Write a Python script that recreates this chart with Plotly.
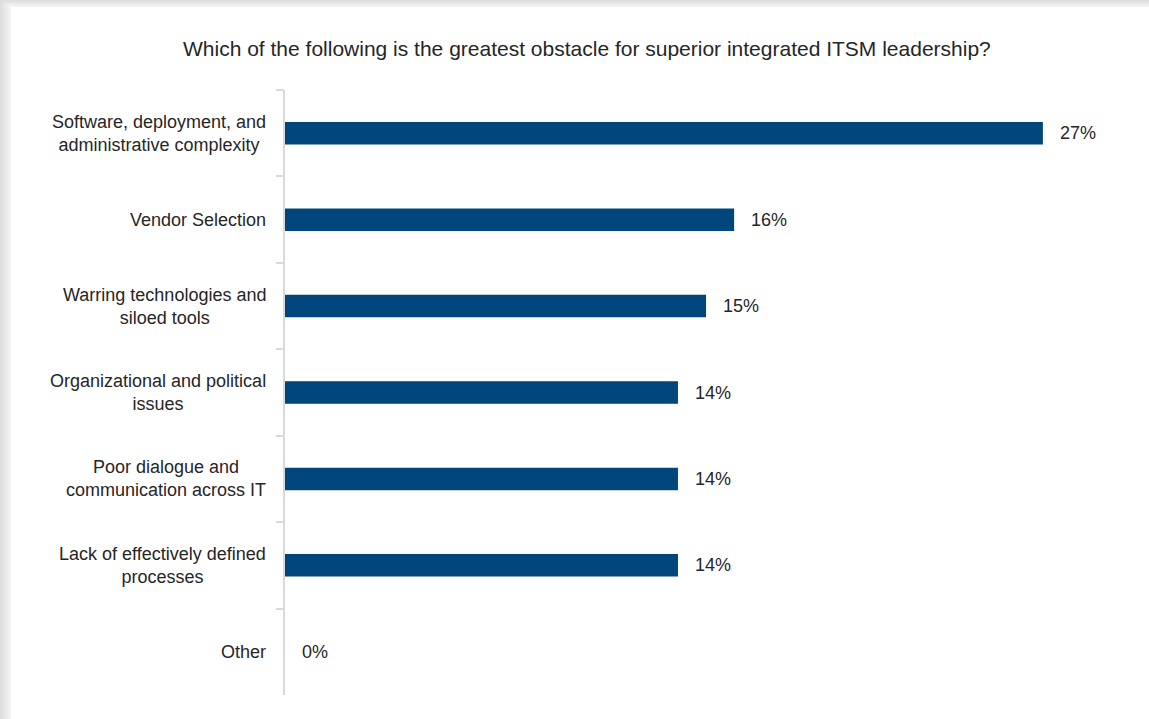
import plotly.graph_objects as go

categories = [
    "Software, deployment, and<br>administrative complexity",
    "Vendor Selection",
    "Warring technologies and<br>siloed tools",
    "Organizational and political<br>issues",
    "Poor dialogue and<br>communication across IT",
    "Lack of effectively defined<br>processes",
    "Other",
]
values = [27, 16, 15, 14, 14, 14, 0]
value_labels = ["27%", "16%", "15%", "14%", "14%", "14%", "0%"]

title_text = "Which of the following is the greatest obstacle for superior integrated ITSM leadership?"

W, H = 1149, 719
ML, MR, MT, MB = 285, 50, 90, 24
PW, PH = W - ML - MR, H - MT - MB

FONT = "Liberation Sans Narrow, Arial Narrow, Liberation Sans, Arial, sans-serif"
TXT = "#262626"
BAR = "#00467c"

fig = go.Figure()
fig.add_trace(go.Bar(
    x=values, y=categories, orientation="h",
    marker=dict(color=BAR, line=dict(width=0)),
    width=0.26, hoverinfo="skip",
))

def px_to_paper_x(px):
    return (px - ML) / PW

def px_to_paper_y(py):
    return (H - MB - py) / PH

shapes = []
# background frame with soft gray shadow on top/left
grays = ["#dedede", "#e3e3e3", "#e8e8e8", "#ececec", "#f0f0f0", "#f4f4f4"]
for i, g in enumerate(grays):
    shapes.append(dict(
        type="rect", xref="paper", yref="paper", layer="below",
        x0=px_to_paper_x(i * 2), x1=px_to_paper_x(W + 5),
        y0=px_to_paper_y(H + 5), y1=px_to_paper_y(i * 1.2),
        fillcolor=g, line=dict(width=0),
    ))
shapes.append(dict(
    type="rect", xref="paper", yref="paper", layer="below",
    x0=px_to_paper_x(11), x1=px_to_paper_x(W + 5),
    y0=px_to_paper_y(H + 5), y1=px_to_paper_y(7),
    fillcolor="white", line=dict(width=0),
))

annotations = []
for c, v, t in zip(categories, values, value_labels):
    annotations.append(dict(
        x=v, y=c, xref="x", yref="y", text=t, showarrow=False,
        xanchor="left", yanchor="middle", xshift=15,
        font=dict(family=FONT, size=18, color=TXT),
    ))
    annotations.append(dict(
        x=0, y=c, xref="paper", yref="y", text=c, showarrow=False,
        xanchor="right", yanchor="middle", align="center", xshift=-17,
        font=dict(family=FONT, size=18, color=TXT),
    ))

annotations.append(dict(
    x=px_to_paper_x(587), y=px_to_paper_y(48), xref="paper", yref="paper",
    text=title_text, showarrow=False, xanchor="center", yanchor="middle",
    font=dict(family=FONT, size=21, color=TXT),
))

fig.update_layout(
    width=W, height=H,
    margin=dict(l=ML, r=MR, t=MT, b=MB, pad=0),
    paper_bgcolor="#f4f4f4", plot_bgcolor="rgba(0,0,0,0)",
    showlegend=False,
    shapes=shapes, annotations=annotations,
    xaxis=dict(range=[0, PW / 28.07], visible=False, fixedrange=True),
    yaxis=dict(
        type="category", categoryorder="array", categoryarray=categories,
        autorange="reversed", showticklabels=False,
        showline=True, linecolor="#d9d9d9", linewidth=2,
        ticks="outside", tickson="boundaries", ticklen=7, tickcolor="#d9d9d9", tickwidth=2,
        showgrid=False, zeroline=False, fixedrange=True,
    ),
)

fig.write_html("out.html", config=dict(displayModeBar=False))
